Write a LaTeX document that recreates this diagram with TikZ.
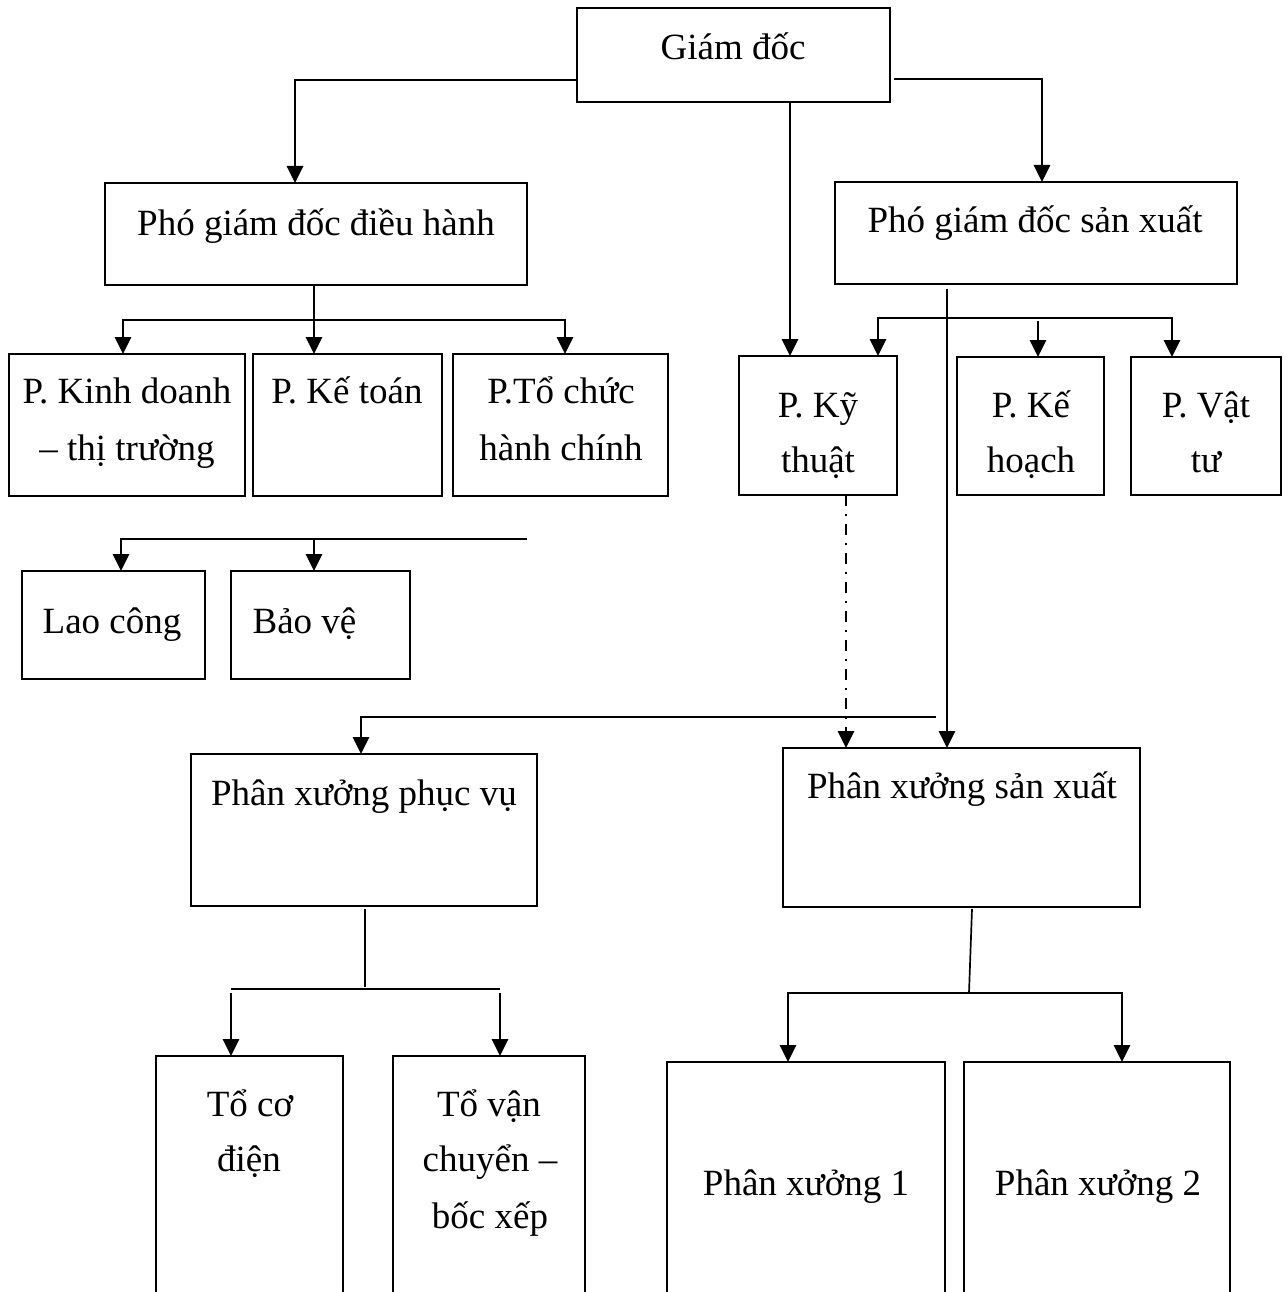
\documentclass[tikz,border=0pt]{standalone}
\usepackage{fontspec}
\setmainfont{Liberation Serif}
\usetikzlibrary{arrows.meta}
\begin{document}
\begin{tikzpicture}[x=1pt,y=-1pt,
  box/.style={draw, line width=2.2pt, inner sep=0pt, outer sep=0pt},
  lbl/.style={anchor=base, inner sep=0pt, font=\fontsize{37}{56}\selectfont},
  conn/.style={line width=2.8pt},
  arr/.style={conn, -{Triangle[width=16pt,length=17pt]}},
  arrtwo/.style={conn, {Triangle[width=16pt,length=17pt]}-{Triangle[width=16pt,length=17pt]}},
  thinline/.style={line width=1.7pt},
  dashdot/.style={line width=2.8pt, dash pattern=on 11pt off 8pt on 2pt off 8pt, -{Triangle[width=16pt,length=17pt]}}]
\useasboundingbox (0,0) rectangle (1287,1292);
\clip (0,0) rectangle (1287,1292);
\fill[white] (0,0) rectangle (1287,1292);

% boxes
\node[box, minimum width=313pt, minimum height=94pt] (gd) at (733.5,55) {};
\node[box, minimum width=422pt, minimum height=102pt] (pgddh) at (316,234) {};
\node[box, minimum width=402pt, minimum height=102pt] (pgdsx) at (1036,233) {};
\node[box, minimum width=236pt, minimum height=142pt] (pkd) at (127,425) {};
\node[box, minimum width=189pt, minimum height=142pt] (pkt) at (347.5,425) {};
\node[box, minimum width=215pt, minimum height=142pt] (ptc) at (560.5,425) {};
\node[box, minimum width=158pt, minimum height=139pt] (pkth) at (818,425.5) {};
\node[box, minimum width=147pt, minimum height=138pt] (pkh) at (1030.5,426) {};
\node[box, minimum width=150pt, minimum height=138pt] (pvt) at (1206,426) {};
\node[box, minimum width=183pt, minimum height=108pt] (lc) at (113.5,625) {};
\node[box, minimum width=179pt, minimum height=108pt] (bv) at (320.5,625) {};
\node[box, minimum width=346pt, minimum height=152pt] (pxpv) at (364,830) {};
\node[box, minimum width=357pt, minimum height=159pt] (pxsx) at (961.5,827.5) {};
\node[box, minimum width=187pt, minimum height=264pt] (tcd) at (249.5,1188) {};
\node[box, minimum width=192pt, minimum height=264pt] (tvc) at (489,1188) {};
\node[box, minimum width=278pt, minimum height=258pt] (px1) at (806,1191) {};
\node[box, minimum width=266pt, minimum height=258pt] (px2) at (1097,1191) {};

% texts
\node[lbl] (gd-t) at (733,60) {Giám đốc};
\node[lbl] (pgddh-t) at (316,235) {Phó giám đốc điều hành};
\node[lbl] (pgdsx-t) at (1035,232) {Phó giám đốc sản xuất};
\node[lbl] (pkd-t1) at (127,403) {P. Kinh doanh};
\node[lbl] (pkd-t2) at (127,460) {– thị trường};
\node[lbl] (pkt-t) at (347,403) {P. Kế toán};
\node[lbl] (ptc-t1) at (561,403) {P.Tổ chức};
\node[lbl] (ptc-t2) at (561,460) {hành chính};
\node[lbl] (pkth-t1) at (818,417) {P. Kỹ};
\node[lbl] (pkth-t2) at (818,472) {thuật};
\node[lbl] (pkh-t1) at (1031,417) {P. Kế};
\node[lbl] (pkh-t2) at (1031,472) {hoạch};
\node[lbl] (pvt-t1) at (1206,417) {P. Vật};
\node[lbl] (pvt-t2) at (1206,472) {tư};
\node[lbl] (lc-t) at (112,633) {Lao công};
\node[lbl] (bv-t) at (304.5,633) {Bảo vệ};
\node[lbl] (pxpv-t) at (364,805) {Phân xưởng phục vụ};
\node[lbl] (pxsx-t) at (962,798) {Phân xưởng sản xuất};
\node[lbl] (tcd-t1) at (250,1116) {Tổ cơ};
\node[lbl] (tcd-t2) at (249,1171) {điện};
\node[lbl] (tvc-t1) at (489,1116) {Tổ vận};
\node[lbl] (tvc-t2) at (490,1171) {chuyển –};
\node[lbl] (tvc-t3) at (490,1228) {bốc xếp};
\node[lbl] (px1-t) at (806,1195) {Phân xưởng 1};
\node[lbl] (px2-t) at (1098,1195) {Phân xưởng 2};

% coordinates
\coordinate (gdL) at (295,80);
\coordinate (gdRs) at (894,79);
\coordinate (gdR) at (1042,79);
\coordinate (gdD) at (790,0);
\coordinate (dhM) at (314,320);
\coordinate (dhL) at (123,320);
\coordinate (dhR) at (565,320);
\coordinate (sxV) at (947,289);
\coordinate (sxL) at (878,318);
\coordinate (sxR) at (1172,318);
\coordinate (sxM) at (1038,321);
\coordinate (lcL) at (121,539);
\coordinate (lcM) at (314,539);
\coordinate (lcR) at (527,539);
\coordinate (pvL) at (361,717);
\coordinate (pvR) at (936,717);
\coordinate (ktD) at (846,0);
\coordinate (pvB1) at (365,909);
\coordinate (pvB2) at (365,987);
\coordinate (tL) at (231,989);
\coordinate (tR) at (500,989);
\coordinate (tLs) at (231,993);
\coordinate (tRs) at (500,993);
\coordinate (sxB1) at (972,909);
\coordinate (sxB2) at (969,993);
\coordinate (sL) at (788,993);
\coordinate (sR) at (1122,993);

% connectors
\draw[arr] (gd.west |- gdL) -- (gdL) -- (pgddh.north -| gdL);
\draw[arr] (gdRs) -- (gdR) -- (pgdsx.north -| gdR);
\draw[arr] (gd.south -| gdD) -- (pkth.north -| gdD);

\draw[conn] (pgddh.south -| dhM) -- (dhM);
\draw[arrtwo] (pkd.north -| dhL) -- (dhL) -- (dhR) -- (ptc.north -| dhR);
\draw[arr] (dhM) -- (pkt.north -| dhM);

\draw[arr] (sxV) -- (pxsx.north -| sxV);
\draw[arrtwo] (pkth.north -| sxL) -- (sxL) -- (sxR) -- (pvt.north -| sxR);
\draw[arr] (sxM) -- (pkh.north -| sxM);

\draw[arr] (lcR) -- (lcL) -- (lc.north -| lcL);
\draw[arr] (lcM) -- (bv.north -| lcM);

\draw[arr] (pvR) -- (pvL) -- (pxpv.north -| pvL);
\draw[dashdot] (pkth.south -| ktD) -- (pxsx.north -| ktD);

\draw[thinline] (pvB1) -- (pvB2);
\draw[conn] (tL) -- (tR);
\draw[arr] (tLs) -- (tcd.north -| tLs);
\draw[arr] (tRs) -- (tvc.north -| tRs);

\draw[thinline] (sxB1) -- (sxB2);
\draw[arrtwo] (px1.north -| sL) -- (sL) -- (sR) -- (px2.north -| sR);
\end{tikzpicture}
\end{document}
